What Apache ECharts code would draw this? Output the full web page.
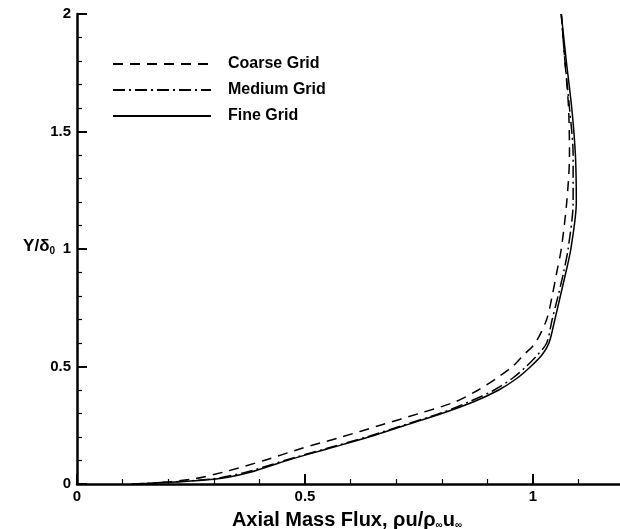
<!DOCTYPE html>
<html>
<head>
<meta charset="utf-8">
<script src="https://cdn.jsdelivr.net/npm/echarts@6/dist/echarts.min.js"></script>
<style>
  html, body { margin: 0; padding: 0; background: #fff; }
  #chart { width: 620px; height: 529px; }
</style>
</head>
<body>
<div id="chart"></div>
<script>
// Wall-normal stations Y/delta0 shared by the three grid solutions
const yStations = [0, 0.02, 0.05, 0.1, 0.15, 0.2, 0.25, 0.3, 0.35, 0.4, 0.45, 0.5,
                   0.55, 0.6, 0.7, 0.8, 0.9, 1.0, 1.2, 1.4, 1.6, 1.8, 2.0];

// Axial mass flux rho*u / (rho_inf*u_inf) at each station
const coarseFlux = [0.15, 0.25, 0.32, 0.41, 0.49, 0.58, 0.665, 0.75, 0.83, 0.88, 0.92, 0.955,
                    0.98, 1.005, 1.03, 1.042, 1.052, 1.062, 1.074, 1.08, 1.078, 1.07, 1.062];
const mediumFlux = [0.12, 0.29, 0.37, 0.455, 0.545, 0.635, 0.715, 0.795, 0.86, 0.915, 0.955, 0.985,
                    1.01, 1.03, 1.042, 1.055, 1.067, 1.077, 1.088, 1.088, 1.08, 1.07, 1.062];
const fineFlux   = [0.12, 0.30, 0.38, 0.46, 0.55, 0.64, 0.72, 0.80, 0.87, 0.925, 0.965, 0.995,
                    1.02, 1.035, 1.048, 1.06, 1.072, 1.083, 1.095, 1.093, 1.085, 1.073, 1.062];

const seriesNames = ['Coarse Grid', 'Medium Grid', 'Fine Grid'];
const xTickLabels = ['0', '0.5', '1'];
const yTickLabels = ['0', '0.5', '1', '1.5', '2'];

const FONT = '"Liberation Sans", Arial, sans-serif';

function profile(flux) {
  return flux.map((x, i) => [x, yStations[i]]);
}

const lineStyles = [
  { type: [10, 7] },
  { type: [12, 4, 2, 4] },
  { type: 'solid' }
];

const chart = echarts.init(document.getElementById('chart'), null, { renderer: 'canvas' });

const axisCommon = {
  type: 'value',
  axisLine: { show: true, lineStyle: { color: '#000', width: 2.5 } },
  axisTick: { show: true, inside: true, length: 10, lineStyle: { color: '#000', width: 2 } },
  minorTick: { show: true, splitNumber: 5, length: 5, lineStyle: { color: '#000', width: 1.2 } },
  splitLine: { show: false },
  minorSplitLine: { show: false },
  nameMoveOverlap: false,
  axisLabel: { color: '#000', fontFamily: FONT, fontWeight: 'bold', fontSize: 15 }
};

chart.setOption({
  animation: false,
  backgroundColor: '#fff',
  // x runs past the right edge of the canvas (0..1.5 over 684 px)
  grid: { left: 77, top: 14, bottom: 45, width: 684, containLabel: false, outerBoundsMode: 'none' },
  legend: {
    orient: 'vertical',
    left: 107,
    top: 51,
    itemWidth: 98,
    itemHeight: 14,
    itemGap: 10,
    itemStyle: { color: 'transparent', borderColor: 'transparent', borderWidth: 0, opacity: 0 },
    textStyle: { color: '#000', fontFamily: FONT, fontWeight: 'bold', fontSize: 16, padding: [0, 0, 0, 12] },
    data: seriesNames
  },
  xAxis: Object.assign({}, axisCommon, {
    min: 0, max: 1.5, interval: 0.5,
    axisLabel: Object.assign({}, axisCommon.axisLabel, {
      margin: 5,
      formatter: v => {
        const s = String(+v.toFixed(2));
        return xTickLabels.includes(s) ? s : '';
      }
    }),
    name: '{a|Axial Mass Flux, ρu/ρ}{s|∞}{a|u}{s|∞}',
    nameLocation: 'middle',
    nameGap: 26,
    nameTextStyle: {
      // centre the title under the visible part of the axis
      padding: [0, 144, 0, 0],
      rich: {
        a: { fontFamily: FONT, fontWeight: 'bold', fontSize: 20, color: '#000' },
        s: { fontFamily: FONT, fontWeight: 'bold', fontSize: 10, color: '#000', padding: [10, 0, 0, 0] }
      }
    }
  }),
  yAxis: Object.assign({}, axisCommon, {
    min: 0, max: 2, interval: 0.5,
    axisLabel: Object.assign({}, axisCommon.axisLabel, {
      margin: 6,
      formatter: v => {
        const s = String(+v.toFixed(2));
        return yTickLabels.includes(s) ? s : '';
      }
    }),
    name: '{a|Y/δ}{s|0}',
    nameLocation: 'middle',
    nameRotate: 0,
    nameGap: 22,
    nameTextStyle: {
      align: 'right',
      verticalAlign: 'middle',
      padding: [0, 0, 6, 0],
      rich: {
        a: { fontFamily: FONT, fontWeight: 'bold', fontSize: 17, color: '#000' },
        s: { fontFamily: FONT, fontWeight: 'bold', fontSize: 10, color: '#000', padding: [10, 0, 0, 0] }
      }
    }
  }),
  series: [coarseFlux, mediumFlux, fineFlux].map((flux, i) => ({
    name: seriesNames[i],
    type: 'line',
    data: profile(flux),
    smooth: 0.3,
    symbol: 'none',
    showSymbol: false,
    clip: true,
    lineStyle: Object.assign({ color: '#000', width: 1.5 }, lineStyles[i]),
    itemStyle: { color: '#000' }
  }))
});
</script>
</body>
</html>
